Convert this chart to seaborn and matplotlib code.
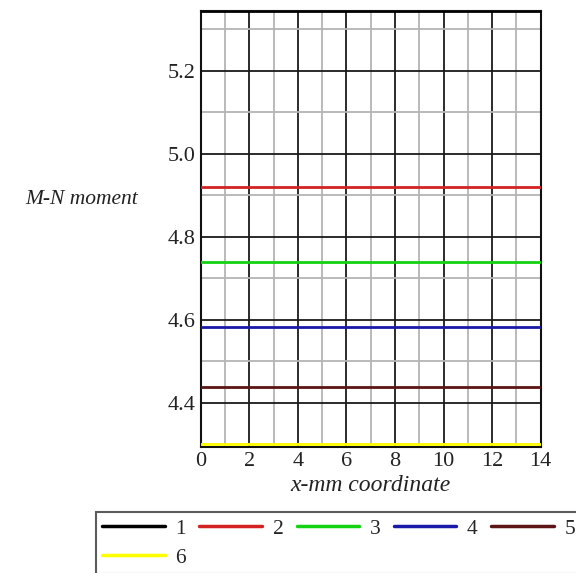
import matplotlib
matplotlib.use("Agg")
import matplotlib.pyplot as plt
from matplotlib.ticker import MultipleLocator, FormatStrFormatter
import seaborn as sns
import pandas as pd

# Moment values along the x coordinate for six cases
x_mm = [0, 14]
series_names = ["1", "2", "3", "4", "5", "6"]
moment_values = [5.344, 4.921, 4.739, 4.582, 4.437, 4.300]
series_colors = ["#000000", "#d42222", "#12d212", "#1a1aa8", "#5c1414", "#ffff00"]

rows = []
for name, val in zip(series_names, moment_values):
    for xv in x_mm:
        rows.append({"x": xv, "moment": val, "case": name})
df = pd.DataFrame(rows)

sns.set_style("white")
plt.rcParams["font.family"] = ["Liberation Serif", "DejaVu Serif"]

fig = plt.figure(figsize=(5.76, 5.73), dpi=100)
ax = fig.add_axes([0.3484, 0.2204, 0.9387 - 0.3484, 0.9808 - 0.2204])

sns.lineplot(data=df, x="x", y="moment", hue="case",
             palette=dict(zip(series_names, series_colors)),
             linewidth=2.0, ax=ax, legend=True, zorder=5)

ax.set_xlim(0, 14)
ax.set_ylim(4.294, 5.344)
ax.xaxis.set_major_locator(MultipleLocator(2))
ax.xaxis.set_minor_locator(MultipleLocator(1))
ax.yaxis.set_major_locator(MultipleLocator(0.2))
ax.yaxis.set_minor_locator(MultipleLocator(0.1))
ax.yaxis.set_major_formatter(FormatStrFormatter("%.1f"))

ax.grid(which="minor", color="#b4b4b4", linewidth=1.3, zorder=1)
ax.grid(which="major", color="#1a1a1a", linewidth=1.3, zorder=2)
ax.set_axisbelow(True)

for s in ax.spines.values():
    s.set_color("#111111")
    s.set_linewidth(1.5)

ax.tick_params(which="major", direction="inout", length=6, width=1.2,
               labelsize=16, colors="#222222", pad=1)
ax.tick_params(which="minor", direction="in", length=4, width=1.2,
               colors="#222222")
ax.tick_params(axis="x", which="both", top=False)
ax.tick_params(axis="y", which="both", right=False)
ax.tick_params(axis="y", which="minor", direction="out", length=3)

ax.set_xlabel("x-mm coordinate", fontsize=17, fontstyle="italic",
              color="#222222", labelpad=3)
ax.set_ylabel("")
fig.text(25 / 576, 1 - 200 / 573, "M-N moment", fontsize=15.5,
         fontstyle="italic", color="#222222", ha="left", va="center")

handles, labels = ax.get_legend_handles_labels()
ax.get_legend().remove()
for h in handles:
    h.set_linewidth(2.5)
# order so the legend reads row by row: 1..5 on top, 6 below
order = [0, 5, 1, 2, 3, 4]
leg = fig.legend([handles[i] for i in order], [labels[i] for i in order],
                 loc="upper left",
                 bbox_to_anchor=(95.7 / 576, 1 - 512.3 / 573),
                 ncol=5, fontsize=15.5, handlelength=2.9, handletextpad=0.5,
                 columnspacing=0.62, labelspacing=0.4, borderpad=0.3,
                 borderaxespad=0, fancybox=False, frameon=True)
leg.get_frame().set_edgecolor("#333333")
leg.get_frame().set_linewidth(1.5)

fig.savefig("out.png", dpi=100)
